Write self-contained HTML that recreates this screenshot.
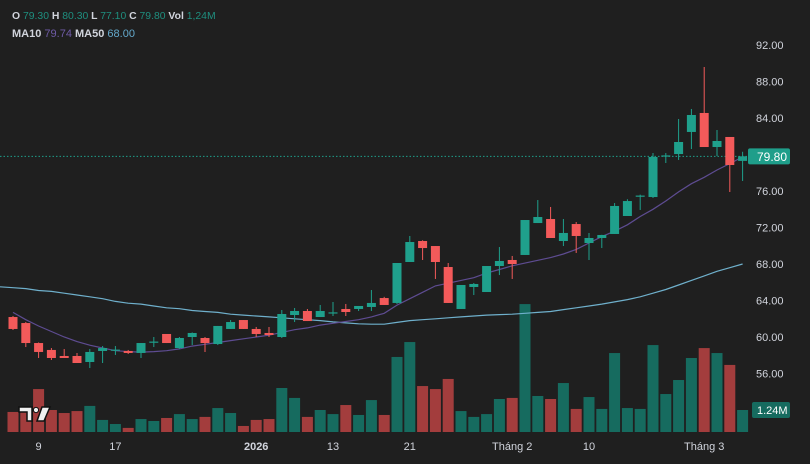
<!DOCTYPE html>
<html><head><meta charset="utf-8">
<style>
html,body{margin:0;padding:0;background:#1f1f1f;}
body{width:810px;height:464px;overflow:hidden;position:relative;font-family:"Liberation Sans",sans-serif;}
.legend{position:absolute;left:12px;font-size:11px;font-weight:bold;color:#d1d4dc;white-space:nowrap;}
.g{color:#1f8f7f;font-weight:normal;}
</style></head>
<body>
<div class="legend" style="top:11px;font-size:10.4px">O <span class="g">79.30</span> H <span class="g">80.30</span> L <span class="g">77.10</span> C <span class="g">79.80</span> Vol <span class="g">1,24M</span></div>
<div class="legend" style="top:28px">MA10 <span style="color:#6f5ba7;font-weight:normal">79.74</span> MA50 <span style="color:#64a9cc;font-weight:normal">68.00</span></div>
<svg id="chart" width="810" height="464" style="position:absolute;left:0;top:0"></svg>
<script>
const opens=[62.19,61.53,59.34,58.58,57.92,57.92,57.26,58.47,58.50,58.47,58.25,59.40,60.33,58.79,60.00,59.89,59.23,60.88,61.86,60.88,60.44,60.00,62.41,62.85,62.19,62.60,63.07,63.07,63.29,64.27,63.73,68.22,70.52,69.97,67.67,63.07,65.48,64.93,67.78,68.44,68.99,72.49,72.93,70.52,72.38,70.30,70.85,71.29,73.26,75.40,75.34,79.80,80.05,82.47,84.55,80.82,81.92,79.30];
const highs=[62.30,61.64,59.40,58.79,58.68,58.25,58.68,59.01,59.01,58.58,59.34,60.00,60.33,60.00,60.50,60.00,61.21,61.86,61.86,61.10,61.10,62.96,63.18,63.07,63.51,63.84,63.62,63.40,65.15,64.40,68.11,71.07,70.60,69.97,68.11,65.70,65.92,67.78,69.86,68.88,72.82,75.01,74.25,72.93,72.60,71.40,71.20,74.68,75.10,75.60,80.16,80.16,83.89,84.99,89.59,82.68,81.92,80.30];
const lows=[60.77,58.90,57.70,57.48,57.70,57.15,56.60,57.15,58.03,58.14,57.70,58.90,59.34,58.70,59.12,58.36,59.12,60.88,60.88,60.00,60.00,59.89,61.64,61.75,62.19,62.30,62.30,62.85,62.85,63.51,63.62,68.22,68.44,66.36,63.73,63.07,64.60,64.93,66.79,66.36,68.99,72.49,70.85,69.97,69.21,68.44,69.75,71.29,73.26,73.92,75.23,79.07,79.40,80.60,80.82,79.84,75.89,77.10];
const closes=[60.88,59.34,58.36,57.70,57.70,57.15,58.36,58.79,58.62,58.25,59.34,59.50,59.34,59.89,60.44,59.34,61.21,61.64,60.88,60.33,60.22,62.52,62.85,61.75,62.85,62.70,62.74,63.40,63.73,63.51,68.11,70.41,69.75,68.22,63.73,65.70,65.81,67.78,68.33,68.00,72.82,73.15,70.85,71.40,71.07,70.85,71.18,74.36,74.90,75.50,79.73,79.90,81.37,84.33,80.82,81.48,78.85,79.80];
const volumes=[1.13,1.18,2.42,1.24,1.07,1.18,1.47,0.68,0.45,0.23,0.73,0.62,0.79,1.01,0.73,0.85,1.35,1.07,0.34,0.68,0.73,2.48,1.92,0.85,1.24,1.01,1.52,0.96,1.80,0.96,4.23,5.07,2.59,2.42,2.99,1.18,0.85,1.01,1.86,1.92,7.21,2.03,1.86,2.76,1.30,1.97,1.30,4.45,1.35,1.30,4.90,2.14,2.93,4.17,4.73,4.45,3.78,1.24];
const ma10=[62.7,61.9,61.2,60.6,60.0,59.5,59.1,58.8,58.5,58.4,58.35,58.4,58.5,58.7,59.0,59.2,59.4,59.6,59.8,60.0,60.2,60.5,60.8,61.0,61.3,61.5,61.7,61.9,62.2,62.6,63.5,64.2,64.9,65.6,65.9,66.2,66.5,67.0,67.4,67.8,68.1,68.4,68.7,69.1,69.6,70.3,71.0,71.6,72.3,73.2,74.0,74.9,75.9,76.8,77.5,78.3,79.0,79.74];
const ma50=[65.4,65.3,65.1,65.0,64.8,64.6,64.4,64.2,63.9,63.7,63.6,63.4,63.2,63.1,62.9,62.8,62.7,62.5,62.4,62.3,62.2,62.1,62.0,61.9,61.8,61.65,61.55,61.45,61.4,61.4,61.6,61.8,61.9,62.0,62.1,62.2,62.3,62.4,62.45,62.5,62.6,62.7,62.8,63.0,63.2,63.4,63.6,63.85,64.1,64.4,64.8,65.2,65.7,66.2,66.7,67.2,67.6,68.0];
const priceTicks=[92,88,84,80,76,72,68,64,60,56];
const dateLabels=["9","17","2026","13","21","Tháng 2","10","Tháng 3"];
const dateIdx=[2,8,19,25,31,39,45,54];
const lastPrice=79.80, lastVolume="1.24M";

const NS="http://www.w3.org/2000/svg";
const svg=document.getElementById('chart');
const yP=p=>45+(92-p)*9.125;
const xI=i=>13+i*12.8;
const volBase=432, volScale=22/1.24;
function mk(tag,attrs,parent){const e=document.createElementNS(NS,tag);for(const k in attrs)e.setAttribute(k,attrs[k]);(parent||svg).appendChild(e);return e;}

volumes.forEach((v,i)=>{
  const up=closes[i]>=opens[i];const h=v*volScale;
  const r=mk('rect',{x:xI(i)-5.5,y:volBase-h,width:11,height:h,fill:up?'#166b5f':'#a33d3d'});
  
  
});
function line(arr,color,name){
  const d=arr.map((v,i)=>(i?'L':'M')+xI(i).toFixed(1)+' '+yP(v).toFixed(1)).join(' ');
  const p=mk('path',{d:d,fill:'none',stroke:color,'stroke-width':1.2});
  
  
}
{const d='M0 '+yP(ma50[0]+0.1).toFixed(1)+' L'+xI(0)+' '+yP(ma50[0]).toFixed(1);mk('path',{d:d,stroke:'#6fb0cc','stroke-width':1.2,fill:'none'});}
line(ma50,'#6fb0cc','ma50-line');
line(ma10,'#5e4c92','ma10-line');
const lp=mk('line',{x1:0,x2:748,y1:yP(lastPrice),y2:yP(lastPrice),stroke:'#1f9e8a','stroke-width':1,'stroke-dasharray':'1.5 2'});


opens.forEach((o,i)=>{
  const c=closes[i],up=c>=o,col=up?'#1fa08c':'#f35a5a';
  const g=mk('g',{});
  
  
  const x=xI(i);
  mk('line',{x1:x,x2:x,y1:yP(highs[i]),y2:yP(lows[i]),stroke:col,'stroke-width':1},g);
  const top=yP(Math.max(o,c)),bh=Math.max(1.2,Math.abs(yP(o)-yP(c)));
  mk('rect',{x:x-4.5,y:top,width:9,height:bh,fill:col},g);
});
priceTicks.forEach(p=>{
  const t=mk('text',{x:756,y:yP(p)+4,fill:'#d1d4dc','font-size':11,'font-family':'Liberation Sans, sans-serif'});
  t.textContent=p.toFixed(2);
  
  
});
{const y=yP(lastPrice);
 const b=mk('rect',{x:748,y:y-8,width:42,height:16,rx:2,fill:'#1f9e8a'});
 
 
 const t=mk('text',{x:757,y:y+4.5,fill:'#ffffff','font-size':12,'font-family':'Liberation Sans, sans-serif'});t.textContent=lastPrice.toFixed(2);
 
 
 const vb=mk('rect',{x:752,y:402,width:38,height:16,rx:2,fill:'#166b5f'});
 
 
 const vt=mk('text',{x:757,y:414,fill:'#ffffff','font-size':11,'font-family':'Liberation Sans, sans-serif'});vt.textContent=lastVolume;
 
 
}
dateLabels.forEach((s,k)=>{
  const t=mk('text',{x:xI(dateIdx[k]),y:450,fill:'#d1d4dc','font-size':11,'text-anchor':'middle','font-weight':s==='2026'?'bold':'normal','font-family':'Liberation Sans, sans-serif'});
  t.textContent=s;
  
  
});
{const g=mk('g',{});
 
 
 mk('path',{d:'M19 407 H32 V421 H27 V412 H19 Z',fill:'#f0f0f0',stroke:'#111','stroke-width':1.5},g);
 mk('circle',{cx:36,cy:410,r:2.6,fill:'#f0f0f0',stroke:'#111','stroke-width':1},g);
 mk('path',{d:'M42 407 H50 L44 421 H37 Z',fill:'#f0f0f0',stroke:'#111','stroke-width':1.5},g);
}
</script>
</body></html>
